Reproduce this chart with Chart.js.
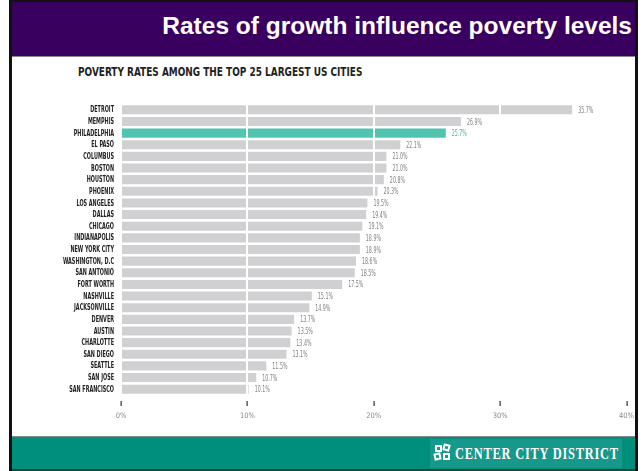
<!DOCTYPE html>
<html>
<head>
<meta charset="utf-8">
<script src="https://cdn.jsdelivr.net/npm/chart.js@4"></script>
<style>
  html, body { margin: 0; padding: 0; background: #fff; }
  #page { position: relative; width: 643px; height: 471px; overflow: hidden; background: #fff; }
  #frameL { position: absolute; left: 9px; top: 0; width: 3px; height: 471px; background: #111; }
  #frameR { position: absolute; left: 635px; top: 0; width: 3px; height: 471px; background: #111; }
  #header { position: absolute; left: 12px; top: 0; width: 623px; height: 57px; background: #3a005f;
            border-top: 2px solid #111; border-bottom: 1px solid #888; box-sizing: border-box; }
  #title { position: absolute; right: 3px; top: 10px; color: #fff; font: bold 24.5px "Liberation Sans", Arial, sans-serif;
           white-space: nowrap; }
  #subtitle { position: absolute; left: 78px; top: 64px; color: #222; font: bold 13px "DejaVu Sans Condensed", sans-serif;
              white-space: nowrap; transform: scaleX(0.765); transform-origin: 0 0; }
  #footer { position: absolute; left: 12px; top: 436px; width: 623px; height: 35px; background: #008f7d;
            border-top: 1px solid #8a8a8a; border-bottom: 2px solid #0b4a40; box-sizing: border-box; }
  #logo { position: absolute; left: 418px; top: 2px; width: 192px; height: 29px; background: #16988a; }
  #logoText { position: absolute; left: 25px; top: 6px; color: #fff; font: bold 16px "Liberation Serif", "DejaVu Serif", serif;
              letter-spacing: 1px; white-space: nowrap; transform: scaleX(0.775); transform-origin: 0 0; }
  .sq { position: absolute; width: 7px; height: 7px; border: 2px solid #fff; box-sizing: border-box; background: transparent; }
  #chartBox { position: absolute; left: 12px; top: 95px; width: 626px; height: 340px; }
</style>
</head>
<body>
<div id="page">
  <div id="header"><div id="title">Rates of growth influence poverty levels</div></div>
  <div id="subtitle">POVERTY RATES AMONG THE TOP 25 LARGEST US CITIES</div>
  <div id="chartBox"><canvas id="chart"></canvas></div>
  <div id="footer">
    <div id="logo">
      <div class="sq" style="left:5px;top:6px;"></div>
      <div class="sq" style="left:13px;top:5px;transform:rotate(15deg);"></div>
      <div class="sq" style="left:4px;top:14px;transform:rotate(-12deg);"></div>
      <div class="sq" style="left:13px;top:14px;"></div>
      <div id="logoText">CENTER CITY DISTRICT</div>
    </div>
  </div>
  <div id="frameL"></div>
  <div id="frameR"></div>
</div>
<script>
// Poverty rate (%) by city, largest first
const cities = ["DETROIT", "MEMPHIS", "PHILADELPHIA", "EL PASO", "COLUMBUS", "BOSTON", "HOUSTON", "PHOENIX",
  "LOS ANGELES", "DALLAS", "CHICAGO", "INDIANAPOLIS", "NEW YORK CITY", "WASHINGTON, D.C", "SAN ANTONIO",
  "FORT WORTH", "NASHVILLE", "JACKSONVILLE", "DENVER", "AUSTIN", "CHARLOTTE", "SAN DIEGO", "SEATTLE",
  "SAN JOSE", "SAN FRANCISCO"];
const povertyRates = [35.7, 26.9, 25.7, 22.1, 21.0, 21.0, 20.8, 20.3, 19.5, 19.4, 19.1, 18.9, 18.9, 18.6, 18.5,
  17.5, 15.1, 14.9, 13.7, 13.5, 13.4, 13.1, 11.5, 10.7, 10.1];
const axisTicks = [0, 10, 20, 30, 40];
const highlightCity = "PHILADELPHIA";

const GREY = "#d0d0d2";
const TEAL = "#50c4b0";
const condensed = '"DejaVu Sans Condensed", "DejaVu Sans", sans-serif';

const barColors = cities.map(c => c === highlightCity ? TEAL : GREY);
const labelColors = cities.map(c => c === highlightCity ? "#3fb8a4" : "#808080");

// draw text squeezed horizontally (narrow lettering)
function narrowText(ctx, text, x, y, squeeze, align) {
  ctx.save();
  ctx.translate(x, y);
  ctx.scale(squeeze, 1);
  ctx.textAlign = align;
  ctx.fillText(text, 0, 0);
  ctx.restore();
}

// city names, value labels and the short axis tick marks
const narrowLabels = {
  id: "narrowLabels",
  afterDraw(chart) {
    const ctx = chart.ctx;
    const ys = chart.scales.y;
    const xs = chart.scales.x;
    const meta = chart.getDatasetMeta(0);
    ctx.save();
    ctx.textBaseline = "middle";
    ctx.font = "bold 8px " + condensed;
    ctx.fillStyle = "#222";
    cities.forEach((name, i) => {
      narrowText(ctx, name, ys.right - 7, ys.getPixelForTick(i) + 0.5, 0.68, "right");
    });
    ctx.font = "8px " + condensed;
    meta.data.forEach((bar, i) => {
      ctx.fillStyle = labelColors[i];
      narrowText(ctx, povertyRates[i].toFixed(1) + "%", bar.x + 6, bar.y + 1, 0.66, "left");
    });
    ctx.fillStyle = "#333";
    axisTicks.forEach(v => {
      const x = Math.round(xs.getPixelForValue(v));
      ctx.fillRect(x - 0.5, chart.chartArea.bottom + 6, 1.2, 5);
    });
    ctx.restore();
  }
};

new Chart(document.getElementById("chart"), {
  type: "bar",
  data: {
    labels: cities,
    datasets: [{
      data: povertyRates,
      backgroundColor: barColors,
      borderWidth: 0,
      categoryPercentage: 0.78,
      barPercentage: 1
    }]
  },
  options: {
    indexAxis: "y",
    responsive: true,
    maintainAspectRatio: false,
    animation: false,
    layout: { padding: { top: 9, right: 0, left: 0, bottom: 0 } },
    plugins: { legend: { display: false }, tooltip: { enabled: false } },
    scales: {
      x: {
        min: axisTicks[0],
        max: axisTicks[axisTicks.length - 1],
        afterBuildTicks: s => { s.ticks = axisTicks.map(v => ({ value: v })); },
        afterFit: s => { s.height = 40; },
        border: { display: false },
        grid: {
          z: 1,
          drawTicks: true,
          tickLength: 13,
          tickColor: "rgba(0,0,0,0)",
          lineWidth: 2,
          color: c => c.index === 0 ? "rgba(0,0,0,0)" : "#ffffff"
        },
        ticks: {
          padding: 4,
          color: "#888",
          font: { family: condensed, size: 7.5 },
          callback: v => v + "%"
        }
      },
      y: {
        afterFit: s => { s.width = 109; },
        border: { display: false },
        grid: { display: false, drawTicks: false },
        ticks: { display: false, autoSkip: false }
      }
    }
  },
  plugins: [narrowLabels]
});
</script>
</body>
</html>
